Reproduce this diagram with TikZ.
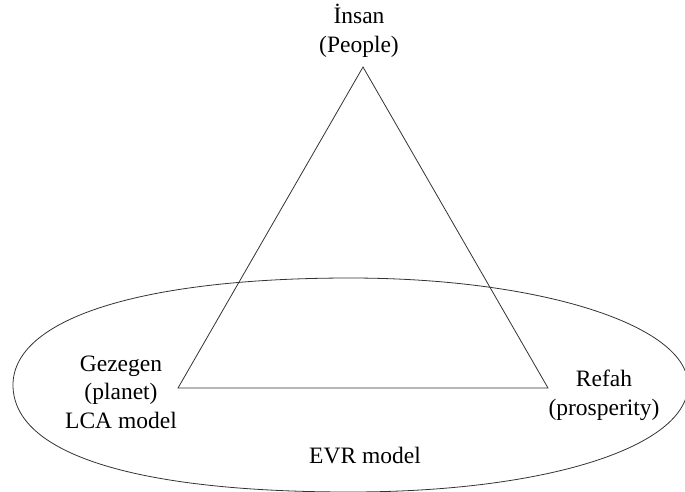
\documentclass[tikz,border=0pt]{standalone}
\usepackage{fontspec}
\setmainfont{Liberation Serif}
\begin{document}
\begin{tikzpicture}[x=1pt,y=-1pt,
  lbl/.style={font=\fontsize{23.5}{28.5}\selectfont, align=center, inner sep=0pt, anchor=base},
  thin line/.style={draw=black!80, line width=0.8pt}]
\useasboundingbox (0,0) rectangle (685,491);
% triangle
\coordinate (A) at (363,67);
\coordinate (B) at (178,388);
\coordinate (C) at (548,388);
\draw[thin line, line join=miter] (A) -- (B) -- (C) -- cycle;
% ellipse
\coordinate (L) at (13,385);
\coordinate (T) at (350,278);
\coordinate (R) at (688,385);
\coordinate (Bt) at (350,492);
\draw[thin line] (L) .. controls (13,318.7) and (141,278) .. (T)
  .. controls (539,278) and (688,325) .. (R)
  .. controls (688,447) and (546,492) .. (Bt)
  .. controls (134,492) and (13,453.5) .. (L) -- cycle;
% labels (base anchor = baseline of last line)
\node[lbl] (people) at (359,52) {İnsan\\(People)};
\node[lbl] (planet) at (121,428) {Gezegen\\(planet)\\LCA model};
\node[lbl] (prosp) at (604,415) {Refah\\(prosperity)};
\node[lbl] (evr) at (365,463) {EVR model};
\end{tikzpicture}
\end{document}
